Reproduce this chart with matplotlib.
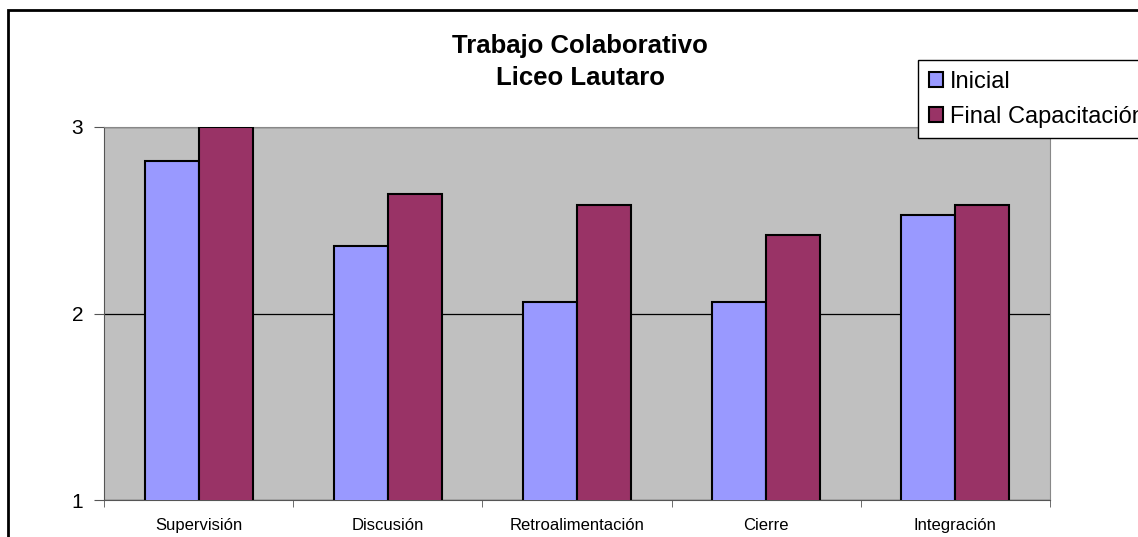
import numpy as np
from matplotlib import pyplot as plt
from matplotlib.patches import Rectangle

plt.rcParams['font.family'] = ['Liberation Sans', 'DejaVu Sans']

# data
categorias = ['Supervisión', 'Discusión', 'Retroalimentación', 'Cierre', 'Integración']
inicial = [2.82, 2.36, 2.06, 2.06, 2.53]
final = [3.0, 2.64, 2.58, 2.42, 2.58]
series = ['Inicial', 'Final Capacitación']

W, H = 1138, 537
fig = plt.figure(figsize=(W / 100, H / 100), dpi=100)
ax = fig.add_axes([104 / W, 1 - 500 / H, 946 / W, 373 / H])
ax.set_facecolor('#C0C0C0')

x = np.arange(len(categorias))
bw = 1 / 3.5
ax.bar(x - bw / 2, inicial, bw, bottom=0, color='#9999FF', edgecolor='black', lw=1.5, label=series[0], zorder=3)
ax.bar(x + bw / 2, final, bw, bottom=0, color='#993366', edgecolor='black', lw=1.5, label=series[1], zorder=3)

ax.set_xlim(-0.5, len(categorias) - 0.5)
ax.set_ylim(1, 3)
ax.set_yticks([1, 2, 3])
ax.yaxis.grid(True, color='black', lw=0.9, zorder=1)
ax.set_xticks(x)
ax.set_xticklabels(categorias, fontsize=12)
ax.set_xticks(np.arange(len(categorias) + 1) - 0.5, minor=True)
ax.tick_params(axis='x', which='major', length=0, pad=13)
ax.tick_params(axis='x', which='minor', length=5, color='#555555', direction='out')
ax.tick_params(axis='y', labelsize=15, length=7, color='#555555', pad=8)
for s in ['top', 'right']:
    ax.spines[s].set_color('#888888')
for s in ['left', 'bottom']:
    ax.spines[s].set_color('#555555')

fig.text(580 / W, 1 - 62 / H, 'Trabajo Colaborativo\nLiceo Lautaro', ha='center', va='center',
         fontsize=18.5, fontweight='bold', linespacing=1.45)

# legend runs off the right edge, as in the original
leg = fig.legend(loc='upper left', bbox_to_anchor=(918 / W, 1 - 60 / H), fontsize=17,
                 frameon=True, fancybox=False, framealpha=1, edgecolor='black',
                 handlelength=0.6, handleheight=0.6, handletextpad=0.3,
                 borderpad=0.45, labelspacing=0.55, borderaxespad=0)
leg.get_frame().set_linewidth(1.0)

# outer chart border, runs past the right and bottom edges
fig.patches.append(Rectangle((8 / W, -0.05), 1.1, 1.05 - 10 / H, transform=fig.transFigure,
                             fill=False, edgecolor='black', lw=2, zorder=0))

fig.savefig('out.png', dpi=100)
plt.close(fig)
